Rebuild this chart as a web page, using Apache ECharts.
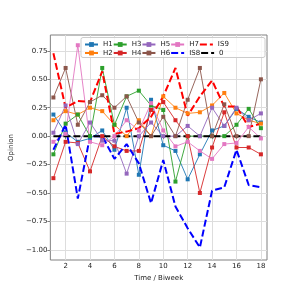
<!DOCTYPE html>
<html><head><meta charset="utf-8">
<script src="https://cdn.jsdelivr.net/npm/echarts@6/dist/echarts.min.js"></script>
<style>html,body{margin:0;padding:0;background:#fff}#c{width:297px;height:297px}</style>
</head><body><div id="c"></div>
<script>
const times = [1,2,3,4,5,6,7,8,9,10,11,12,13,14,15,16,17,18];
const H1  = [0.19, 0.03,-0.05,-0.02, 0.05,-0.12, 0.25,-0.34, 0.32,-0.08,-0.13,-0.38,-0.16, 0.05, 0.09, 0.24, 0.17, 0.12];
const H2  = [0.14, 0.22, 0.19, 0.25, 0.22, 0.10, 0.00, 0.14, 0.00, 0.35, 0.25, 0.20, 0.21, 0.27, 0.38, 0.20, 0.14, 0.11];
const H3  = [-0.16,0.11, 0.19, 0.00, 0.60, 0.10, 0.35, 0.40, 0.27, 0.23,-0.40, 0.00, 0.00, 0.00, 0.00, 0.10, 0.24, 0.07];
const H4  = [-0.37,-0.05,-0.06,-0.31,0.00,-0.09,-0.13,-0.13, 0.23, 0.30, 0.14, 0.00,-0.50,-0.10, 0.21,-0.10,-0.10,-0.16];
const H5  = [0.03, 0.27,-0.07, 0.12,-0.04,-0.04,-0.33, 0.00, 0.12, 0.00, 0.00, 0.09, 0.00, 0.25, 0.09, 0.25, 0.14, 0.20];
const H6  = [0.34, 0.60, 0.10, 0.30, 0.36, 0.25, 0.35, 0.12, 0.00, 0.17, 0.00, 0.32, 0.60, 0.00, 0.28, 0.00, 0.00, 0.50];
const H7  = [-0.05,0.02, 0.80,-0.05,-0.08, 0.00, 0.14, 0.05, 0.29, 0.05,-0.09,-0.05,-0.13,-0.20,-0.07,-0.06, 0.08,-0.02];
const IS8 = [-0.12,0.10,-0.55, 0.00, 0.00,-0.20,-0.07,-0.24,-0.59,-0.21,-0.62,-0.81,-0.98,-0.48,-0.45,-0.12,-0.43,-0.45];
const IS9 = [0.73, 0.25, 0.31, 0.30, 0.57, 0.02, 0.04, 0.07, 0.17, 0.35, 0.60, 0.18, 0.35, 0.49, 0.26, 0.26, 0.08, 0.11];
const ZERO = [0,0,0,0,0,0,0,0,0,0,0,0,0,0,0,0,0,0];
const xTicks = [2,4,6,8,10,12,14,16,18];
const yTicks = [-1,-0.75,-0.5,-0.25,0,0.25,0.5,0.75];

const FONT = 'DejaVu Sans';
const pair = arr => times.map((t,i)=>[t, arr[i]]);
function solid(name, arr, color){
  return {name, type:'line', data:pair(arr), symbol:'rect', symbolSize:4,
    itemStyle:{color}, lineStyle:{color, width:0.9}, animation:false};
}
function dashed(name, arr, color){
  return {name, type:'line', data:pair(arr), symbol:'none',
    itemStyle:{color}, lineStyle:{color, width:2, type:[7,3]}, animation:false};
}
const noSym = name => ({name, itemStyle:{opacity:0}});
const fmt = v => (v<0?'\u2212':'') + Math.abs(v).toFixed(2);
const legendCommon = {orient:'horizontal', itemWidth:13, itemHeight:6, itemGap:0, padding:0,
  textStyle:{fontFamily:FONT, fontSize:7, color:'#222', width:20}, z:10, selectedMode:false};

const chart = echarts.init(document.getElementById('c'), null, {renderer:'canvas'});
chart.setOption({
  animation:false,
  backgroundColor:'#fff',
  grid:{left:37, right:30, top:35, bottom:37, show:true, borderColor:'#808080', borderWidth:1},
  xAxis:{type:'value', min:0.75, max:18.5,
    name:'Time / Biweek', nameLocation:'middle', nameGap:9,
    nameTextStyle:{fontFamily:FONT, fontSize:7, color:'#222'},
    axisLine:{show:false},
    axisTick:{show:true, length:3, inside:false, customValues:xTicks, lineStyle:{color:'#808080'}},
    axisLabel:{customValues:xTicks, fontFamily:FONT, fontSize:7, color:'#222', margin:3},
    splitLine:{show:true, lineStyle:{color:'#dddddd', width:1}}},
  yAxis:{type:'value', min:-1.09, max:0.89,
    name:'Opinion', nameLocation:'middle', nameGap:23,
    nameTextStyle:{fontFamily:FONT, fontSize:7, color:'#222'},
    axisLine:{show:false},
    axisTick:{show:true, length:3, inside:false, customValues:yTicks, lineStyle:{color:'#808080'}},
    axisLabel:{customValues:yTicks, formatter:fmt, fontFamily:FONT, fontSize:7, color:'#222', margin:3},
    splitLine:{show:true, lineStyle:{color:'#dddddd', width:1}}},
  legend:[
    Object.assign({}, legendCommon, {left:84, top:41, data:['H1','H3','H5','H7',noSym('IS9')]}),
    Object.assign({}, legendCommon, {left:84, top:49.5, data:['H2','H4','H6',noSym('IS8'),noSym('0')]})
  ],
  graphic:[{type:'rect', z:8, shape:{x:81, y:37.5, width:184, height:20, r:2},
    style:{fill:'rgba(255,255,255,0.8)', stroke:'#cccccc', lineWidth:1}}],
  series:[
    solid('H1', H1, '#1f77b4'),
    solid('H2', H2, '#ff7f0e'),
    solid('H3', H3, '#2ca02c'),
    solid('H4', H4, '#d62728'),
    solid('H5', H5, '#9467bd'),
    solid('H6', H6, '#8c564b'),
    solid('H7', H7, '#e377c2'),
    dashed('IS8', IS8, '#0000ff'),
    dashed('IS9', IS9, '#ff0000'),
    dashed('0', ZERO, '#000000')
  ]
});
</script></body></html>
